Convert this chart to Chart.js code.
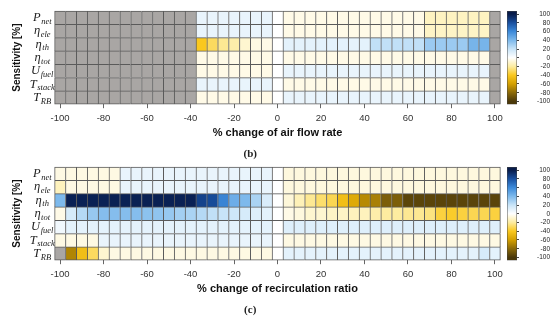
<!DOCTYPE html>
<html>
<head>
<meta charset="utf-8">
<script src="https://cdn.jsdelivr.net/npm/chart.js@4.4.0/dist/chart.umd.min.js"></script>
<style>
  body { margin: 0; background: #fff; }
  #wrap { position: relative; width: 550px; height: 324px; overflow: hidden; }
  canvas { position: absolute; }
</style>
</head>
<body>
<div id="wrap">
  <canvas id="heatB" width="550" height="163" style="left:0;top:0"></canvas>
  <canvas id="barB" width="53" height="120" style="left:497px;top:0"></canvas>
  <canvas id="heatC" width="550" height="163" style="left:0;top:156px"></canvas>
  <canvas id="barC" width="53" height="120" style="left:497px;top:156px"></canvas>
</div>
<script>
// columns: % change (x)
const xValues = [-100, -95, -90, -85, -80, -75, -70, -65, -60, -55, -50, -45, -40, -35, -30, -25, -20, -15, -10, -5,
  0, 5, 10, 15, 20, 25, 30, 35, 40, 45, 50, 55, 60, 65, 70, 75, 80, 85, 90, 95, 100];

// rows (top to bottom)
const rowSymbols = ['P', 'η', 'η', 'η', 'U', 'T', 'T'];
const rowSubs = ['net', 'ele', 'th', 'tot', 'fuel', 'stack', 'RB'];

const N = null; // no result (grey cell)

// (b) air flow rate
const bPnet  = [N,N,N,N,N,N,N,N,N,N,N,N,N, 8,8,8,8,8,8,8, 0, -5,-5,-5,-5,-5,-5,-5,-5,-5,-5,-5,-5,-5, -13,-13,-13,-13,-13,-13, N];
const bEle   = [N,N,N,N,N,N,N,N,N,N,N,N,N, 8,8,8,8,8,8,8, 0, -5,-5,-5,-5,-5,-5,-5,-5,-5,-5,-5,-5,-5, -12,-12,-12,-12,-12,-12, N];
const bTh    = [N,N,N,N,N,N,N,N,N,N,N,N,N, -40,-30,-22,-18,-10,-6,-5, 0, 10,10,10,10,10,10,9,10, 22,22,22,22,22, 32,32,32,32, 42,42, N];
const bTot   = [N,N,N,N,N,N,N,N,N,N,N,N,N, -5,-5,-5,-5,-5,-5,-5, 0, -5,-5,-5,-5,-5,-5,-5,-5,-5,-5,-5,-5,-5,-5,-5,-5,-5,-5,-5, N];
const bUfuel = [N,N,N,N,N,N,N,N,N,N,N,N,N, -5,-5,-5,-5,-5,-5,-5, 0, 8,8,8,8,8,8,8,8,8,8,8,8,8,8,8,8,8,8,8, N];
const bStack = [N,N,N,N,N,N,N,N,N,N,N,N,N, 8,8,8,8,8,8,8, 0, -5,-5,-5,-5,-5,-5,-5,-5,-5,-5,-5,-5,-5,-5,-5,-5,-5,-5,-5, N];
const bRB    = [N,N,N,N,N,N,N,N,N,N,N,N,N, -5,-5,-5,-5,-5,-5,-5, 0, 8,8,8,8,8,8,8,8,8,8,8,8,8,8,8,8,8,8,8, N];

// (c) recirculation ratio
const cPnet  = [-6,-6,-6,-6,-6,-6, 8,8,8,8,8,8,8,8,8,8,8,8,8,8, 0, -7,-7,-7,-7,-7,-7,-7,-7,-7,-7,-7,-7,-7,-7,-7,-7,-7,-7,-7,-7];
const cEle   = [-14,-6,-6,-6,-6,-6, 8,8,8,8,8,8,8,8,8,8,8,8,8,8, 0, -7,-7,-7,-7,-7,-7,-7,-7,-7,-7,-7,-7,-7,-7,-7,-7,-7,-7,-7,-7];
const cTh    = [40, 98,98,98,98,98,98,98,98,98,98,98,98, 85,82,62,45,40,28,14, 0,
  -8,-15,-22,-28,-32,-45,-55,-68,-72,-85,-85, -95,-95,-95,-95,-95,-95,-95,-95,-95];
const cTot   = [-5,15,25,33,38,38,38,38,36,35,33,30,28,25,22,20,18,15,12,10, 0,
  -5,-7,-10,-10,-12,-12,-14,-14,-18,-20,-20,-22,-22,-25,-35,-38,-35,-32,-32,-35];
const cUfuel = [5,10,10,10,10,10,10,10,10,10,10,10,10,10,10,10,10,10,10,10, 0, 12,12,12,12,12,12,12,12,12,12,12,12,12,12,12,12,12,12,12,12];
const cStack = [-6,-6,-6,-6, 8,8,8,8,8,8,8,8,8,8,8,8,8,8,8,8, 0, -6,-6,-6,-6,-6,-6,-6,-6,-6,-6,-6,-6,-6,-6,-6,-6,-6,-6,-6,-6];
const cRB    = [N,-70,-45,-30,-10, -6,-6,-6,-6,-6,-6,-6,-6,-6,-6,-6,-6,-6,-6,-6, 0, 10,10,10,10,10,10,10,10,10,10,10,10,10,10,10,10,10,10,15,10];

// colour scale
const cmapStops = [
  [-100, [74, 56, 10]],
  [-80, [140, 106, 8]],
  [-60, [212, 160, 0]],
  [-40, [250, 200, 30]],
  [-20, [253, 236, 160]],
  [0, [255, 255, 255]],
  [20, [200, 228, 248]],
  [40, [125, 185, 236]],
  [60, [60, 138, 218]],
  [80, [25, 80, 160]],
  [100, [8, 28, 75]]
];

Chart.defaults.font.family = "'Liberation Sans', Arial, sans-serif";
Chart.defaults.color = '#333';

function heatColor(v) {
  if (v === null || v === undefined) return '#a9a6a4';
  v = Math.max(-100, Math.min(100, v));
  for (let i = 1; i < cmapStops.length; i++) {
    const [v1, c1] = cmapStops[i];
    if (v <= v1) {
      const [v0, c0] = cmapStops[i - 1];
      const t = (v - v0) / (v1 - v0);
      const c = c0.map((a, k) => Math.round(a + (c1[k] - a) * t));
      return `rgb(${c[0]},${c[1]},${c[2]})`;
    }
  }
  return 'rgb(8,28,75)';
}

function buildCells(rows) {
  const cells = [];
  rows.forEach((row, r) => {
    row.forEach((v, c) => {
      cells.push({ x: xValues[c], y: [r - 0.5, r + 0.5], v: v, r: r, c: c });
    });
  });
  return cells;
}

// row names with subscripts
const rowLabelPlugin = {
  id: 'rowLabels',
  afterDraw(chart) {
    const { ctx, scales: { y } } = chart;
    const bigFont = "italic 12.5px 'Liberation Serif', serif";
    const subFont = "italic 8.5px 'Liberation Serif', serif";
    ctx.save();
    ctx.fillStyle = '#222';
    ctx.textAlign = 'left';
    ctx.textBaseline = 'alphabetic';
    rowSymbols.forEach((sym, i) => {
      const yc = y.getPixelForValue(i);
      ctx.font = bigFont;
      const w1 = ctx.measureText(sym).width;
      ctx.font = subFont;
      const w2 = ctx.measureText(rowSubs[i]).width;
      const x0 = 42 - (w1 + w2) / 2;
      ctx.font = bigFont;
      ctx.fillText(sym, x0, yc + 3.5);
      ctx.font = subFont;
      ctx.fillText(rowSubs[i], x0 + w1 + 0.5, yc + 6);
    });
    ctx.restore();
  }
};

function makeHeat(id, rows, xTitle, panel) {
  return new Chart(document.getElementById(id), {
    type: 'bar',
    data: {
      datasets: [{
        data: buildCells(rows),
        backgroundColor: ctx => heatColor(ctx.raw ? ctx.raw.v : 0),
        borderColor: '#5a5a5a',
        borderWidth: ctx => ctx.raw ? {
          left: 1, top: 1,
          right: ctx.raw.c === xValues.length - 1 ? 1 : 0,
          bottom: ctx.raw.r === rows.length - 1 ? 1 : 0
        } : 0,
        borderSkipped: false,
        barPercentage: 1,
        categoryPercentage: 1,
        clip: false
      }]
    },
    options: {
      responsive: false,
      animation: false,
      events: [],
      layout: { padding: { top: 11, left: 0, right: 49.6, bottom: 0 } },
      plugins: {
        legend: { display: false },
        tooltip: { enabled: false },
        title: {
          display: true, position: 'bottom', text: panel, color: '#222',
          font: { family: "'Liberation Serif', serif", size: 11, weight: 'bold' },
          padding: { top: 6, bottom: 2 }
        }
      },
      scales: {
        x: {
          type: 'linear', min: -102.5, max: 102.5, offset: false,
          grid: { offset: false, drawOnChartArea: false, tickLength: 4, color: '#666' },
          border: { display: false },
          ticks: { stepSize: 20, includeBounds: false, padding: 4, color: '#333', font: { size: 9.5 } },
          title: { display: true, text: xTitle, color: '#111', font: { size: 11, weight: 'bold' }, padding: { top: 4, bottom: 2 } },
          afterFit: s => { s.height = 37.6; }
        },
        y: {
          type: 'linear', min: -0.5, max: 6.5, reverse: true,
          grid: { display: false, drawTicks: false },
          border: { display: false },
          ticks: { display: false },
          title: { display: true, text: 'Sensitivity [%]', color: '#111', font: { size: 10, weight: 'bold' }, padding: { top: 11, bottom: 0 } },
          afterFit: s => { s.width = 54.6; }
        }
      }
    },
    plugins: [rowLabelPlugin]
  });
}

function makeColorbar(id) {
  return new Chart(document.getElementById(id), {
    type: 'bar',
    data: {
      labels: [''],
      datasets: [{
        data: [[-107, 107]],
        backgroundColor: ctx => {
          const chart = ctx.chart;
          if (!chart.chartArea) return '#fff';
          const y = chart.scales.y;
          const g = chart.ctx.createLinearGradient(0, y.getPixelForValue(-100), 0, y.getPixelForValue(100));
          cmapStops.forEach(([v, c]) => g.addColorStop((v + 100) / 200, `rgb(${c[0]},${c[1]},${c[2]})`));
          return g;
        },
        borderColor: '#444',
        borderWidth: 0.8,
        borderSkipped: false,
        barPercentage: 1,
        categoryPercentage: 1
      }]
    },
    options: {
      responsive: false,
      animation: false,
      events: [],
      layout: { padding: { top: 11, bottom: 15.5, left: 10, right: 0 } },
      plugins: { legend: { display: false }, tooltip: { enabled: false } },
      scales: {
        x: { display: false },
        y: {
          position: 'right', min: -107, max: 107,
          grid: { drawOnChartArea: false, tickLength: 2, color: '#444' },
          border: { display: false },
          ticks: { stepSize: 20, includeBounds: false, autoSkip: false, padding: 1, crossAlign: 'far', color: '#222', font: { size: 6.5 } },
          afterFit: s => { s.width = 33; }
        }
      }
    }
  });
}

makeHeat('heatB', [bPnet, bEle, bTh, bTot, bUfuel, bStack, bRB], '% change of air flow rate', '(b)');
makeColorbar('barB');
makeHeat('heatC', [cPnet, cEle, cTh, cTot, cUfuel, cStack, cRB], '% change of recirculation ratio', '(c)');
makeColorbar('barC');
</script>
</body>
</html>
